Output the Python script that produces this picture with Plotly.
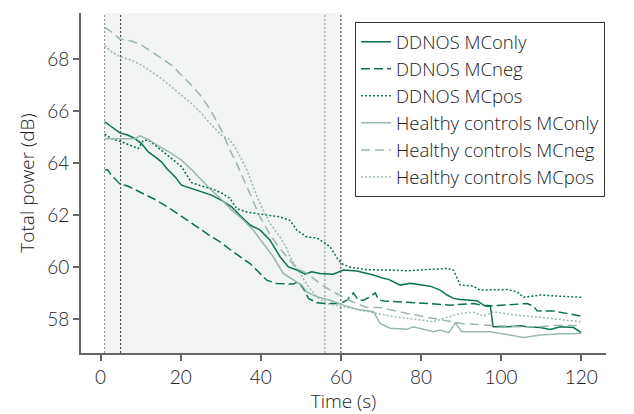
import plotly.graph_objects as go

# ---- data ----
t_dd_only = [1, 2.7, 4.8, 6.9, 8.6, 10.2, 11.9, 13.6, 15.2, 16.5, 18.6, 20.2, 22.7, 25.2, 27.7, 30.2,
             32.7, 35.2, 37.3, 39.8, 42.3, 44.8, 46.9, 49, 51.1, 52.7, 54.8, 58.1, 60.6, 64, 68.1, 70.6,
             71.9, 73.1, 74.8, 77.3, 80.6, 82.3, 84.8, 86.5, 88.1, 89.8, 94, 95.6, 97.3, 98, 101.5,
             104.8, 106.5, 109.8, 112.3, 114.8, 118.1, 120]
dd_only = [65.59, 65.4, 65.16, 65.07, 64.94, 64.75, 64.43, 64.24, 64.05, 63.79, 63.47, 63.15, 63.02,
           62.9, 62.77, 62.57, 62.32, 61.93, 61.62, 61.43, 61.04, 60.4, 60.01, 59.89, 59.73, 59.82,
           59.76, 59.73, 59.89, 59.85, 59.7, 59.57, 59.53, 59.44, 59.31, 59.38, 59.31, 59.27, 59.12,
           58.93, 58.8, 58.76, 58.71, 58.54, 58.52, 57.71, 57.71, 57.75, 57.71, 57.68, 57.6, 57.71,
           57.68, 57.48]

t_dd_neg = [1, 1.7, 2.7, 4.8, 6.9, 10.2, 13.6, 16.9, 20.2, 23.6, 26.9, 30.2, 33.1, 37.3, 41.5, 44,
            48.1, 49.4, 50.6, 51.9, 54, 56.5, 59.8, 61.5, 63.1, 64.4, 65.6, 67.3, 68.6, 69.4, 70.6,
            76.5, 82.3, 87.3, 93.1, 96.5, 101.5, 106.5, 108.1, 109, 113.1, 116.5, 120]
dd_neg = [63.73, 63.75, 63.53, 63.2, 63.11, 62.85, 62.6, 62.3, 61.97, 61.6, 61.25, 60.93, 60.59,
          60.14, 59.5, 59.37, 59.35, 59.44, 59.18, 58.8, 58.63, 58.6, 58.6, 58.73, 59.01, 58.73,
          58.73, 58.86, 59.01, 58.75, 58.7, 58.66, 58.6, 58.54, 58.6, 58.5, 58.54, 58.6, 58.5,
          58.32, 58.31, 58.22, 58.12]

t_dd_pos = [1, 2.7, 5.2, 7.7, 9.4, 10.7, 11.9, 13.6, 15.2, 17.7, 20.2, 21.9, 22.7, 25.2, 27.7, 30.2,
            32.3, 34, 36.5, 39, 42.3, 44.8, 47.3, 49, 51.5, 54, 55.6, 57.3, 59.4, 60.6, 62.3, 66.5,
            72.3, 76.5, 80.6, 86.5, 88.1, 89.8, 93.1, 94.8, 101.5, 104, 105.6, 109.8, 114, 120]
dd_pos = [65.11, 64.94, 64.82, 64.65, 64.56, 64.88, 64.88, 64.69, 64.5, 64.18, 63.86, 63.47, 63.25,
          63.12, 63.02, 62.85, 62.64, 62.25, 62.12, 62.06, 62.0, 61.93, 61.8, 61.42, 61.16, 61.12,
          60.97, 60.78, 60.27, 60.1, 60.0, 59.9, 59.89, 59.86, 59.9, 59.95, 59.89, 59.31, 59.27,
          59.12, 59.14, 59.05, 58.84, 58.93, 58.89, 58.84]

t_hc_only = [1, 8.6, 9.8, 11.9, 14.4, 17.7, 20.2, 22.7, 25.2, 27.7, 30.2, 32.7, 35.2, 38.1, 40.6,
             43.1, 45.6, 49, 50.2, 51.5, 54, 57.3, 60.6, 64, 68.1, 69.8, 72.3, 76.5, 78.1, 83.1, 84.8,
             86.9, 88.6, 90.2, 97.3, 105.6, 109.8, 114, 120]
hc_only = [64.94, 64.94, 65.05, 64.91, 64.66, 64.37, 64.11, 63.75, 63.35, 62.95, 62.6, 62.2, 61.87,
           61.43, 60.91, 60.4, 59.76, 59.44, 59.31, 59.05, 58.86, 58.73, 58.54, 58.38, 58.29, 57.84,
           57.65, 57.61, 57.71, 57.52, 57.58, 57.48, 57.86, 57.52, 57.52, 57.3, 57.39, 57.43, 57.45]

t_hc_neg = [1, 2.7, 4.8, 7.7, 10.2, 12.7, 15.2, 17.7, 20.2, 22.7, 25.2, 27.7, 30.2, 32.3, 34, 36.5,
            38.1, 39.8, 42.3, 44.8, 46.5, 49, 51.5, 54.8, 57.3, 59.8, 63.1, 66.5, 69.8, 76.5, 83.1,
            89.8, 96.5, 103.1, 109.8, 113.1, 120]
hc_neg = [69.22, 69.05, 68.77, 68.69, 68.54, 68.28, 68.02, 67.77, 67.38, 66.99, 66.55, 65.97, 65.25,
          64.5, 63.98, 63.09, 62.57, 61.93, 61.25, 60.71, 60.4, 59.95, 59.76, 59.37, 59.12, 58.93,
          58.65, 58.45, 58.45, 58.22, 58.03, 57.84, 57.77, 57.71, 57.71, 57.76, 57.75]

t_hc_pos = [1, 2.7, 4.8, 7.7, 10.2, 12.7, 15.2, 17.7, 20.2, 22.7, 25.2, 27.7, 30.2, 32.3, 34, 36.5,
            38.1, 39.8, 42.3, 44.8, 46.5, 47.3, 49.8, 51.9, 54, 56.5, 59.8, 64.8, 68.1, 73.1, 79.8,
            83.1, 86.5, 89.8, 93.1, 95.6, 98.1, 103.1, 109.8, 114.8, 120]
hc_pos = [68.51, 68.28, 68.09, 67.96, 67.77, 67.51, 67.25, 66.93, 66.61, 66.29, 65.91, 65.46, 65.07,
          64.9, 64.5, 63.75, 63.09, 62.44, 61.68, 61.16, 60.71, 60.4, 59.76, 59.25, 58.86, 58.6,
          58.5, 58.35, 58.25, 58.1, 57.97, 57.9, 58.07, 58.22, 58.27, 58.12, 58.29, 58.17, 58.07,
          58.0, 57.9]

series_names = ["DDNOS MConly", "DDNOS MCneg", "DDNOS MCpos",
                "Healthy controls MConly", "Healthy controls MCneg", "Healthy controls MCpos"]

stim_window = [1, 60]
event_lines = [1, 5, 56, 60]

x_ticks = [0, 20, 40, 60, 80, 100, 120]
y_ticks = [58, 60, 62, 64, 66, 68]

# ---- styling ----
DARK = "#0c7151"
LIGHT = "#98b9ac"
FONT = "Lato"
FONT2 = "Open Sans"

series = [
    (t_dd_only, dd_only, DARK, "solid"),
    (t_dd_neg, dd_neg, DARK, "9px,4px"),
    (t_dd_pos, dd_pos, DARK, "2px,2px"),
    (t_hc_only, hc_only, LIGHT, "solid"),
    (t_hc_neg, hc_neg, LIGHT, "9px,5px"),
    (t_hc_pos, hc_pos, LIGHT, "2px,2px"),
]

fig = go.Figure()
for name, (tx, vy, col, dash) in zip(series_names, series):
    fig.add_trace(go.Scatter(x=tx, y=vy, mode="lines", name=name,
                             line=dict(color=col, width=1.5, dash=dash)))

# shaded stimulation window
fig.add_shape(type="rect", xref="x", yref="paper", x0=stim_window[0], x1=stim_window[1],
              y0=0, y1=1, fillcolor="#f2f4f3", line=dict(width=0), layer="below")
line_cols = ["#8a8a8a", "#333333", "#8a8a8a", "#333333"]
for xv, lc in zip(event_lines, line_cols):
    fig.add_shape(type="line", xref="x", yref="paper", x0=xv, x1=xv, y0=0, y1=1,
                  line=dict(color=lc, width=1, dash="2px,2px"), layer="below")

# the page body adds an 8px offset, so the figure is sized/margined to compensate
fig.update_layout(
    width=626, height=406,
    margin=dict(l=73, r=28, t=5, b=61, autoexpand=False),
    paper_bgcolor="white", plot_bgcolor="white",
    font=dict(family=FONT, size=18, color="#222", weight=300),
    legend=dict(x=0.522, y=0.973, xanchor="left", yanchor="top",
                bgcolor="white", bordercolor="#333", borderwidth=1,
                font=dict(family=FONT2, size=18.5, color="#1a1a1a", weight=300),
                tracegroupgap=0, itemwidth=30),
    showlegend=True,
)
fig.update_xaxes(range=[-4.9, 126.2], tickvals=x_ticks, ticks="outside", ticklen=6,
                 tickwidth=1.5, tickcolor="#666", showline=True, linecolor="#666", linewidth=2,
                 showgrid=False, zeroline=False, automargin=False,
                 title=dict(text="Time (s)", standoff=8, font=dict(family=FONT2, size=19)),
                 tickfont=dict(size=19))
fig.update_yaxes(range=[56.7, 69.77], tickvals=y_ticks, ticks="outside", ticklen=6,
                 tickwidth=1.5, tickcolor="#666", showline=True, linecolor="#666", linewidth=2,
                 showgrid=False, zeroline=False, automargin=False,
                 title=dict(text="Total power (dB)", standoff=8, font=dict(family=FONT2, size=19)),
                 tickfont=dict(size=19))

fig.write_html("out.html")
